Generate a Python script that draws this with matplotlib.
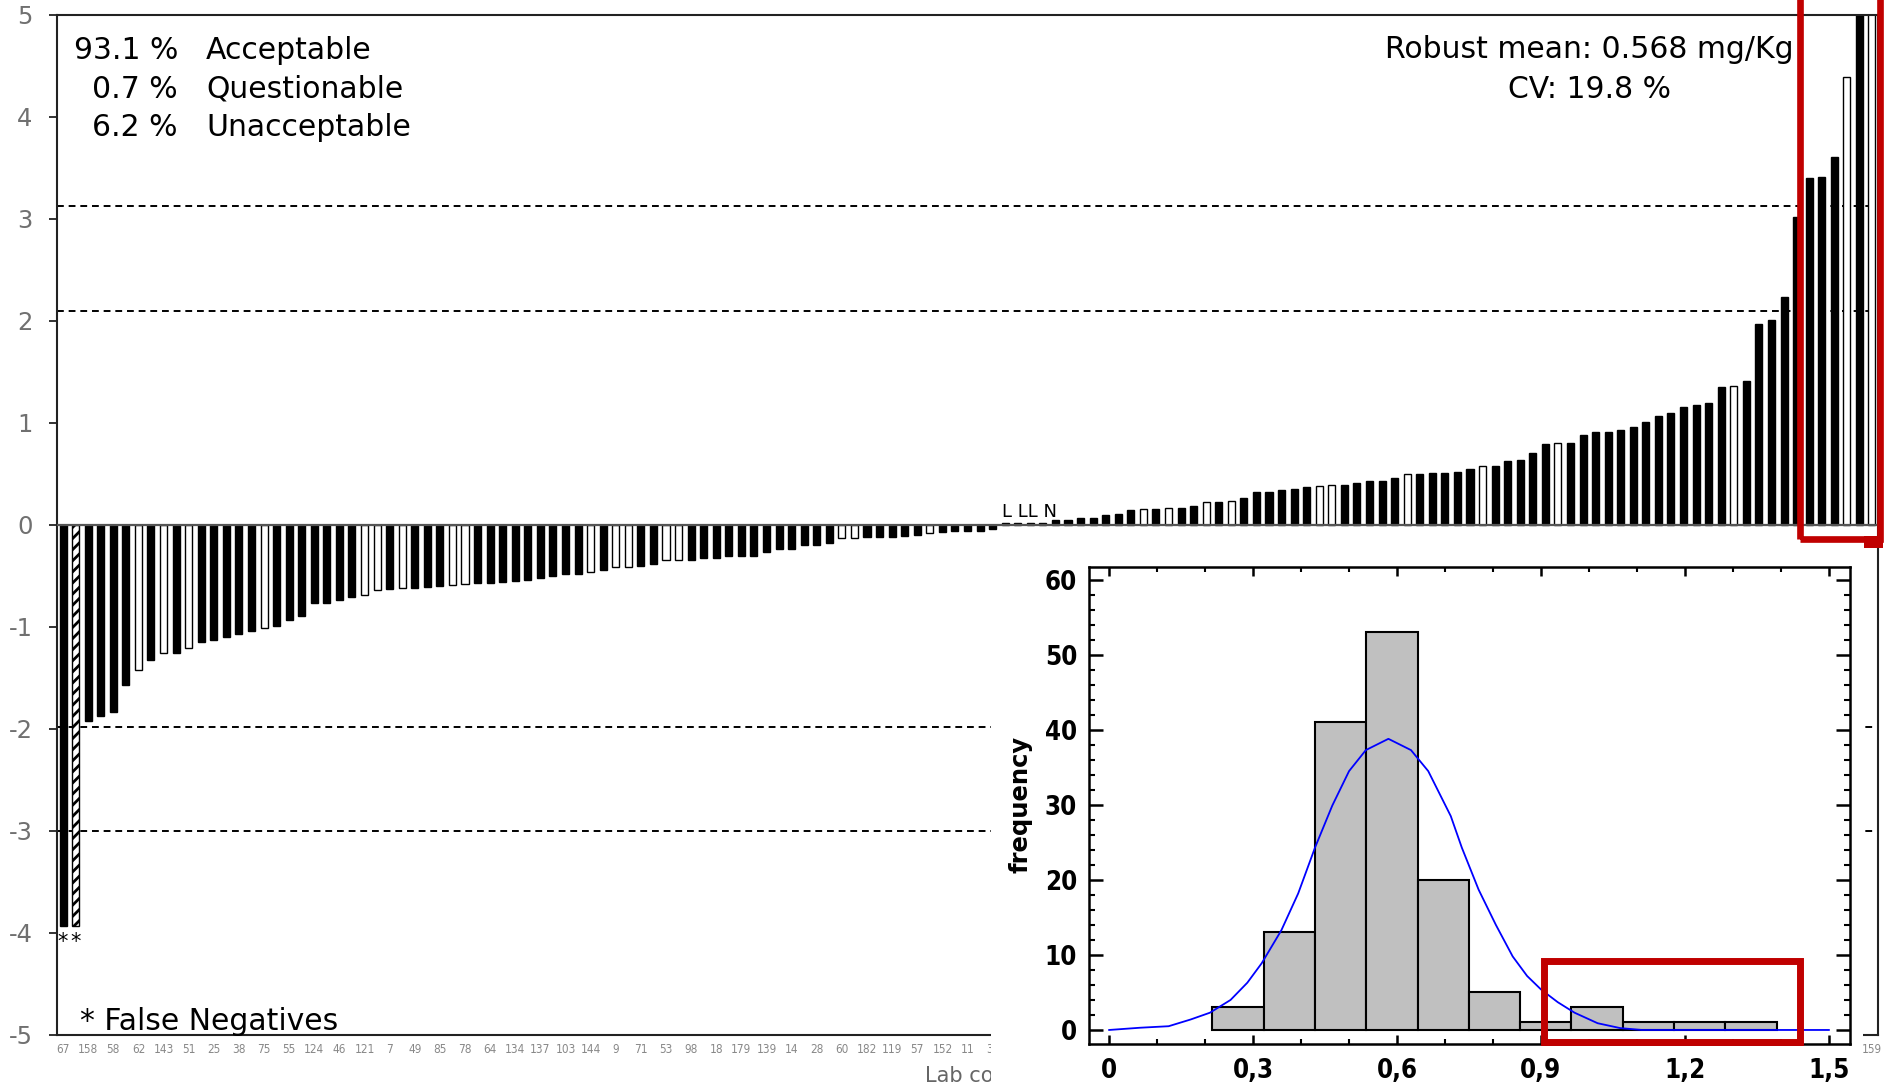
import matplotlib
matplotlib.use('Agg')
import matplotlib.pyplot as plt
import numpy as np
from matplotlib.patches import Rectangle
from matplotlib.ticker import MultipleLocator

plt.rcParams['font.family'] = 'DejaVu Sans'
plt.rcParams['axes.unicode_minus'] = False
plt.rcParams['hatch.linewidth'] = 2.0

# z-scores of all labs, sorted
z_scores = [
    -3.93, -3.93, -1.92, -1.87, -1.83, -1.57, -1.42, -1.32, -1.25, -1.25,
    -1.21, -1.15, -1.125, -1.10, -1.07, -1.04, -1.01, -0.99, -0.93, -0.89,
    -0.765, -0.765, -0.74, -0.71, -0.69, -0.635, -0.63, -0.62, -0.62, -0.61,
    -0.60, -0.59, -0.575, -0.57, -0.57, -0.555, -0.55, -0.54, -0.52, -0.50,
    -0.485, -0.48, -0.46, -0.44, -0.41, -0.41, -0.405, -0.385, -0.345, -0.345,
    -0.34, -0.325, -0.32, -0.30, -0.30, -0.30, -0.268, -0.24, -0.235, -0.20,
    -0.20, -0.176, -0.125, -0.125, -0.122, -0.122, -0.114, -0.11, -0.098, -0.082,
    -0.065, -0.06, -0.06, -0.06, -0.04, 0.016, 0.016, 0.016, 0.016, 0.05,
    0.05, 0.07, 0.07, 0.10, 0.11, 0.15, 0.157, 0.16, 0.167, 0.17,
    0.186, 0.23, 0.23, 0.235, 0.265, 0.327, 0.327, 0.343, 0.35, 0.373,
    0.382, 0.39, 0.392, 0.415, 0.428, 0.435, 0.457, 0.497, 0.497, 0.513,
    0.513, 0.515, 0.548, 0.583, 0.583, 0.627, 0.634, 0.704, 0.795, 0.80,
    0.80, 0.88, 0.907, 0.914, 0.935, 0.963, 1.005, 1.068, 1.096, 1.152,
    1.173, 1.20, 1.355, 1.362, 1.41, 1.97, 2.01, 2.24, 3.02, 3.40,
    3.41, 3.61, 4.39, 5.6, 5.6,
]
# B = black, W = white, H = hatched
bar_styles = ("BHBBBBWBWB" "WBBBBBWBBB" "BBBBWWBWBB" "BWWBBBBBBB" "BBWBWWBBWW"
              "BBBBBBBBBB" "BBWWBBBBBW" "BBBBBBBBBB" "BBBBBBWBWB" "BWBWBBBBBB"
              "WWBBBBBWBB" "BBBWBBBBBW" "BBBBBBBBBB" "BBBWBBBBBB" "BBWBW")

# lab codes under every other bar (only the visible ones)
code_bars = list(range(1, 76, 2)) + [145]
lab_codes = ['67', '158', '58', '62', '143', '51', '25', '38', '75', '55',
             '124', '46', '121', '7', '49', '85', '78', '64', '134', '137',
             '103', '144', '9', '71', '53', '98', '18', '179', '139', '14',
             '28', '60', '182', '119', '57', '152', '11', '31', '159']

limit_lines = [3.13, 2.10, -1.98, -3.0]
shares = ['93.1 %', '0.7 %', '6.2 %']
classes = ['Acceptable', 'Questionable', 'Unacceptable']

# histogram of results (mg/Kg)
hist_edges = [0.215, 0.322, 0.429, 0.536, 0.643, 0.750, 0.856, 0.963,
              1.070, 1.177, 1.284, 1.391]
hist_counts = [3, 13, 41, 53, 20, 5, 1, 3, 1, 1, 1]
curve_x = [0.0, 0.065, 0.124, 0.17, 0.21, 0.253, 0.288, 0.318, 0.359, 0.394,
           0.429, 0.465, 0.50, 0.535, 0.582, 0.629, 0.665, 0.712, 0.735, 0.77,
           0.806, 0.841, 0.871, 0.90, 0.935, 0.97, 1.018, 1.065, 1.11, 1.50]
curve_y = [0.0, 0.3, 0.5, 1.4, 2.3, 4.0, 6.3, 8.9, 13.3, 18.2,
           24.3, 29.9, 34.5, 37.3, 38.8, 37.3, 34.5, 28.5, 24.3, 18.7,
           14.0, 9.8, 7.2, 5.4, 3.7, 2.3, 0.9, 0.25, 0.0, 0.0]
hist_xticks = [0, 0.3, 0.6, 0.9, 1.2, 1.5]
hist_xlabels = ['0', '0,3', '0,6', '0,9', '1,2', '1,5']

W, H = 1884, 1089


def fx(px):
    return px / W


def fy(py):
    return 1 - py / H


fig = plt.figure(figsize=(W / 100, H / 100), dpi=100)

# main z-score chart
ax = fig.add_axes([fx(57), fy(1035), fx(1878) - fx(57), fy(15) - fy(1035)])
xs = np.arange(1, len(z_scores) + 1)
faces = ['black' if s == 'B' else 'white' for s in bar_styles]
bars = ax.bar(xs, z_scores, width=0.56, color=faces, edgecolor='black',
              linewidth=1.0, zorder=2)
for b, s in zip(bars, bar_styles):
    if s == 'H':
        b.set_hatch('///')

for y in limit_lines:
    ax.axhline(y, color='black', lw=1.4, ls=(0, (3.5, 2.5)), zorder=1)
ax.axhline(0, color='#555555', lw=1.6, zorder=3)

ax.set_xlim(0.52, 145.48)
ax.set_ylim(-5, 5)
ax.set_yticks(range(-5, 6))
ax.tick_params(axis='y', direction='out', length=5.5, width=1.4, pad=12,
               labelsize=17.5, labelcolor='#707070', color='#333333')
ax.set_xticks(code_bars)
ax.set_xticklabels(lab_codes, fontsize=8.5, color='#888888',
                   fontstretch='condensed')
ax.tick_params(axis='x', length=0, pad=6)
for sp in ax.spines.values():
    sp.set_linewidth(1.5)
    sp.set_color('#222222')

ax.text(1, -3.99, '*', ha='center', va='top', fontsize=15)
ax.text(2, -3.99, '*', ha='center', va='top', fontsize=15)
ax.text(75.75, 0.08, 'L LL N', ha='left', va='baseline', fontsize=13)

for i, (s, c) in enumerate(zip(shares, classes)):
    yb = 59 + i * 38.5
    fig.text(fx(178), fy(yb), s, ha='right', va='baseline', fontsize=21.5)
    fig.text(fx(206), fy(yb), c, ha='left', va='baseline', fontsize=21.5)

fig.text(fx(1589), fy(58), 'Robust mean: 0.568 mg/Kg', ha='center',
         va='baseline', fontsize=21.5)
fig.text(fx(1589), fy(98), 'CV: 19.8 %', ha='center', va='baseline',
         fontsize=21.5)
fig.text(fx(80), fy(1030), '* False Negatives', ha='left', va='baseline',
         fontsize=21.5)
fig.text(fx(925), fy(1082), 'Lab code', ha='left', va='baseline', fontsize=15,
         color='#666666', zorder=0.5)

# white backing for the inset histogram
fig.add_artist(Rectangle((fx(991), 0), fx(1863) - fx(991), fy(550),
                         transform=fig.transFigure, facecolor='white',
                         edgecolor='none', zorder=1))

# inset histogram
hax = fig.add_axes([fx(1089), fy(1044), fx(1850) - fx(1089), fy(567) - fy(1044)])
hax.set_zorder(2)
hax.bar(hist_edges[:-1], hist_counts, width=np.diff(hist_edges), align='edge',
        color='#c0c0c0', edgecolor='black', linewidth=1.5, zorder=2)
hax.plot(curve_x, curve_y, color='#0000ff', lw=1.3, zorder=3)
hax.set_xlim(-0.042, 1.544)
hax.set_ylim(-1.87, 61.7)
hax.set_xticks(hist_xticks)
hax.set_xticklabels(hist_xlabels)
hax.set_yticks(range(0, 61, 10))
hax.xaxis.set_minor_locator(MultipleLocator(0.1))
hax.yaxis.set_minor_locator(MultipleLocator(2))
hax.tick_params(axis='x', which='major', direction='in', top=True, length=6.5,
                width=1.8, pad=10)
hax.tick_params(axis='x', which='minor', direction='in', top=True, length=3.5,
                width=1.5)
hax.tick_params(axis='y', which='major', direction='in', right=True, length=10,
                width=1.8, pad=8.5)
hax.tick_params(axis='y', which='minor', direction='in', right=True, length=4,
                width=1.5)
for lbl in hax.get_xticklabels() + hax.get_yticklabels():
    lbl.set_fontstretch('condensed')
    lbl.set_fontweight('bold')
    lbl.set_fontsize(18.5)
for sp in hax.spines.values():
    sp.set_linewidth(1.8)
hax.set_ylabel('frequency', fontsize=17.5, fontweight='bold')
hax.yaxis.set_label_coords(-0.074, 0.503)

hax.add_patch(Rectangle((0.906, -1.54), 1.439 - 0.906, 9.2 + 1.54, fill=False,
                        edgecolor='#c00000', lw=5, zorder=5, clip_on=False))

# red highlight on the main chart
fig.add_artist(Rectangle((fx(1800), fy(539)), fx(1880) - fx(1800), (539 + 20) / H,
                         transform=fig.transFigure, fill=False,
                         edgecolor='#c00000', lw=4.8, zorder=4))
fig.add_artist(Rectangle((fx(1864), fy(548)), fx(1883) - fx(1864), 12 / H,
                         transform=fig.transFigure, facecolor='#c00000',
                         edgecolor='none', zorder=4))

fig.savefig('out.png', dpi=100)
